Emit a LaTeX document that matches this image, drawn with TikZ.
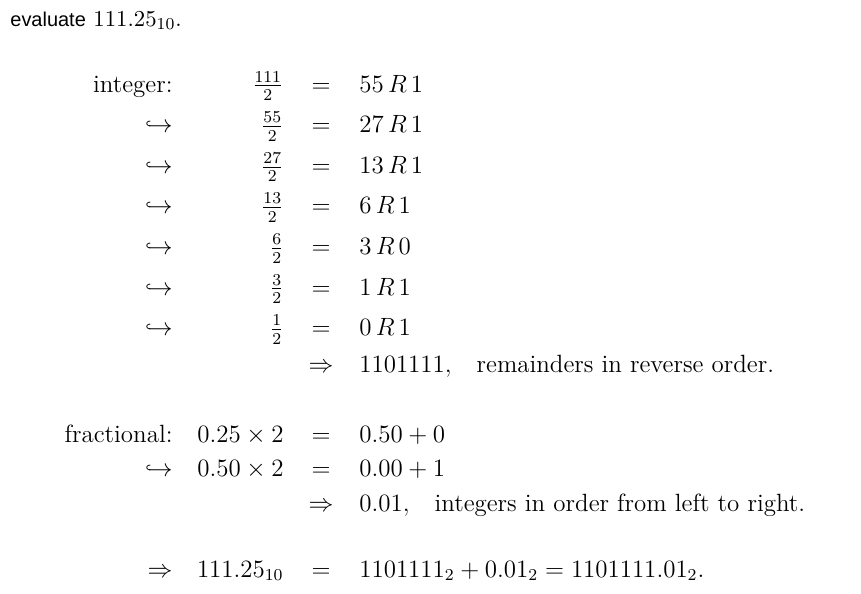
\documentclass[tikz,border=0pt]{standalone}
\usepackage{fontspec}
\newfontfamily\headfont{Liberation Sans}
\tikzset{
  body/.style={inner sep=0pt, font=\fontsize{12}{14}\selectfont},
  rcol/.style={body, anchor=base east},
  lcol/.style={body, anchor=base west},
  mcol/.style={body, anchor=base},
}
\begin{document}
\begin{tikzpicture}[x=0.481pt,y=-0.481pt]
			%%%%% START %%%%%
			\useasboundingbox (0,0) rectangle (861,594);
			
			\node[inner sep=0pt, anchor=base west, font=\fontsize{10.95}{13}\selectfont] (title) at (10,26) {{\headfont\fontsize{9.6}{12}\selectfont evaluate} $111.25_{10}$.};
			
			\node[rcol] (lint) at (173,92) {integer:};
			\node[rcol] (q1) at (284,92) {$\frac{111}{2}$};
			\node[mcol] (e1) at (321,92) {$=$};
			\node[lcol] (r1) at (359,92) {$55\,R\,1$};
			
			\node[rcol] (h2) at (173,132.6) {$\hookrightarrow$};
			\node[rcol] (q2) at (284,132.6) {$\frac{55}{2}$};
			\node[mcol] (e2) at (321,132.6) {$=$};
			\node[lcol] (r2) at (359,132.6) {$27\,R\,1$};
			
			\node[rcol] (h3) at (173,173.2) {$\hookrightarrow$};
			\node[rcol] (q3) at (284,173.2) {$\frac{27}{2}$};
			\node[mcol] (e3) at (321,173.2) {$=$};
			\node[lcol] (r3) at (359,173.2) {$13\,R\,1$};
			
			\node[rcol] (h4) at (173,213.8) {$\hookrightarrow$};
			\node[rcol] (q4) at (284,213.8) {$\frac{13}{2}$};
			\node[mcol] (e4) at (321,213.8) {$=$};
			\node[lcol] (r4) at (359,213.8) {$6\,R\,1$};
			
			\node[rcol] (h5) at (173,254.4) {$\hookrightarrow$};
			\node[rcol] (q5) at (284,254.4) {$\frac{6}{2}$};
			\node[mcol] (e5) at (321,254.4) {$=$};
			\node[lcol] (r5) at (359,254.4) {$3\,R\,0$};
			
			\node[rcol] (h6) at (173,295) {$\hookrightarrow$};
			\node[rcol] (q6) at (284,295) {$\frac{3}{2}$};
			\node[mcol] (e6) at (321,295) {$=$};
			\node[lcol] (r6) at (359,295) {$1\,R\,1$};
			
			\node[rcol] (h7) at (173,335.6) {$\hookrightarrow$};
			\node[rcol] (q7) at (284,335.6) {$\frac{1}{2}$};
			\node[mcol] (e7) at (321,335.6) {$=$};
			\node[lcol] (r7) at (359,335.6) {$0\,R\,1$};
			
			\node[mcol] (imp1) at (321,372.5) {$\Rightarrow$};
			\node[lcol] (bin1) at (359,372.5) {$1101111,$\quad remainders in reverse order.};
			
			\node[rcol] (lfrac) at (173,442.3) {fractional:};
			\node[rcol] (m1) at (284,442.3) {$0.25\times 2$};
			\node[mcol] (f1) at (321,442.3) {$=$};
			\node[lcol] (s1) at (359,442.3) {$0.50+0$};
			
			\node[rcol] (h8) at (173,476.7) {$\hookrightarrow$};
			\node[rcol] (m2) at (284,476.7) {$0.50\times 2$};
			\node[mcol] (f2) at (321,476.7) {$=$};
			\node[lcol] (s2) at (359,476.7) {$0.00+1$};
			
			\node[mcol] (imp2) at (321,511) {$\Rightarrow$};
			\node[lcol] (bin2) at (359,511) {$0.01,$\quad integers in order from left to right.};
			
			\node[rcol] (imp3) at (173,577) {$\Rightarrow$};
			\node[rcol] (dec) at (284,577) {$111.25_{10}$};
			\node[mcol] (f3) at (321,577) {$=$};
			\node[lcol] (res) at (359,577) {$1101111_2+0.01_2=1101111.01_2$.};
			
			%%%%% END %%%%%
\end{tikzpicture}
\end{document}
